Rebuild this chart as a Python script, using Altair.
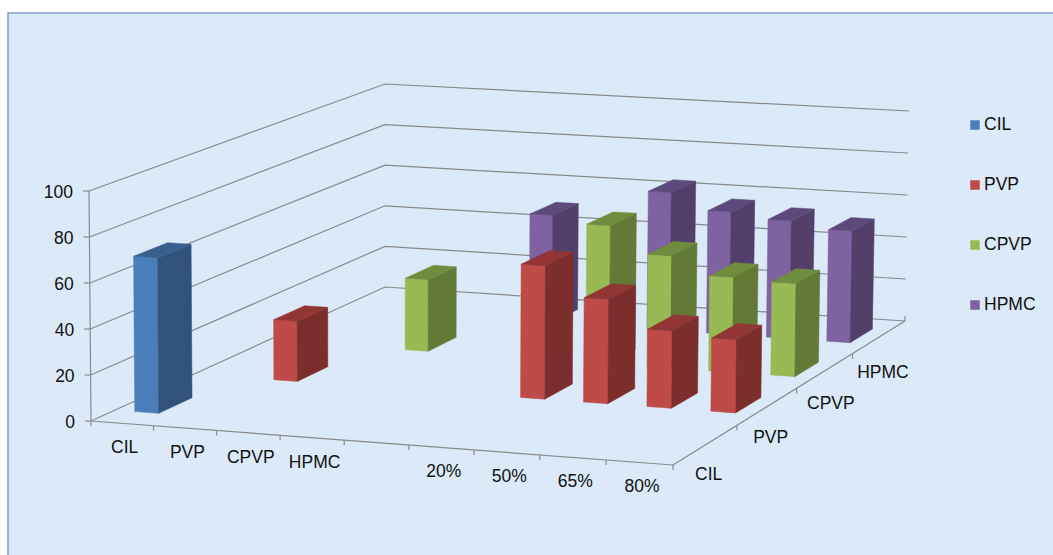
import altair as alt
import pandas as pd

# Series and categories of the 3-D column chart
categories = ["CIL", "PVP", "CPVP", "HPMC", "", "20%", "50%", "65%", "80%"]
series = ["CIL", "PVP", "CPVP", "HPMC"]
cil_values = [68, None, None, None, None, None, None, None, None]
pvp_values = [None, 27, None, None, None, 59, 46, 34, 32]
cpvp_values = [None, None, 33, None, None, 63, 51, 43, 42]
hpmc_values = [None, None, None, 51, None, 65, 57.5, 55, 52]
value_ticks = [0, 20, 40, 60, 80, 100]

series_values = [cil_values, pvp_values, cpvp_values, hpmc_values]
face_colors = {
    "CIL": ("#4a7ebb", "#31527c", "#38608f"),
    "PVP": ("#be4b48", "#7c2e2c", "#913634"),
    "CPVP": ("#98b954", "#637a37", "#708c3f"),
    "HPMC": ("#7e62a1", "#523f6a", "#5c4a7c"),
}
FONT = "Liberation Sans"
GRID = "#8a8a8a"
BG = "#dbe9f8"
W, H = 1053, 555

# Perspective of the floor: (category position, depth position) to page position
N_U, N_V = len(categories), len(series)
FL, FR, BR, BL = (91, 421), (673, 465), (905, 321), (385, 287)


def homography():
    (x0, y0), (x1, y1), (x2, y2), (x3, y3) = FL, FR, BR, BL
    dx1, dx2, sx = x1 - x2, x3 - x2, x0 - x1 + x2 - x3
    dy1, dy2, sy = y1 - y2, y3 - y2, y0 - y1 + y2 - y3
    det = dx1 * dy2 - dx2 * dy1
    g = (sx * dy2 - dx2 * sy) / det
    h = (dx1 * sy - sx * dy1) / det
    return (x1 - x0 + g * x1, x3 - x0 + h * x3, x0,
            y1 - y0 + g * y1, y3 - y0 + h * y3, y0, g, h)


M = homography()


def project(u, v, value=0):
    s, t = u / N_U, v / N_V
    w = M[6] * s + M[7] * t + 1
    x = (M[0] * s + M[1] * t + M[2]) / w
    y = (M[3] * s + M[4] * t + M[5]) / w
    # Height of 100 units and the slight lean of the verticals vary over the floor
    front_h, back_h = 230 + 8 * s, 203 + 7 * s
    full = front_h + (back_h - front_h) * t
    lean = (-2 + 4 * s) * (1 - t) + (0 + 4 * s) * t
    return x + lean * value / 100, y - full * value / 100


# Column faces, painted from the back row to the front
BAR_U, BAR_V = (0.32, 0.705), (0.29, 0.71)
polys = []


def add_poly(pid, color, pts):
    for k, (x, y) in enumerate(pts):
        polys.append({"poly": pid, "k": k, "x": x, "y": y, "c": color})


for j in reversed(range(N_V)):
    for i, val in enumerate(series_values[j]):
        if val is None:
            continue
        u0, u1 = i + BAR_U[0], i + BAR_U[1]
        v0, v1 = j + BAR_V[0], j + BAR_V[1]
        front, side, top = face_colors[series[j]]
        pid = f"{j:02d}-{i:02d}"
        add_poly(pid + "f", front, [project(u0, v0), project(u1, v0), project(u1, v0, val), project(u0, v0, val)])
        add_poly(pid + "s", side, [project(u1, v0), project(u1, v1), project(u1, v1, val), project(u1, v0, val)])
        add_poly(pid + "t", top, [project(u0, v0, val), project(u1, v0, val), project(u1, v1, val), project(u0, v1, val)])

# Gridlines on both walls, the two floor axes and every tick
lines = []


def add_line(lid, pts):
    for k, (x, y) in enumerate(pts):
        lines.append({"line": lid, "k": k, "x": x, "y": y})


for t in value_ticks:
    add_line(f"wall{t}", [project(0, 0, t), project(0, N_V, t), project(N_U, N_V, t)])
    x, y = project(0, 0, t)
    add_line(f"vtick{t}", [(x, y), (x - 6, y)])
add_line("vaxis", [project(0, 0, 0), project(0, 0, 100)])
add_line("front", [project(0, 0), project(N_U, 0)])
add_line("depth", [project(N_U, 0), project(N_U, N_V)])
for i in range(N_U + 1):
    x, y = project(i, 0)
    add_line(f"utick{i}", [(x, y), (x, y + 5)])
for j in range(1, N_V + 1):
    x, y = project(N_U, j)
    add_line(f"dtick{j}", [(x, y), (x, y - 5 if j == N_V else y + 5)])

# Text: value axis, category axis, depth axis
texts = []
for t in value_ticks:
    x, y = project(0, 0, t)
    texts.append({"x": x - 16, "y": y + 1.5, "t": str(t), "a": "right"})
for i, c in enumerate(categories):
    if c:
        x, y = project(i + 0.5, 0)
        texts.append({"x": x + 2.5, "y": y + 25, "t": c, "a": "center"})
for j, s in enumerate(series):
    x, y = project(N_U, j)
    texts.append({"x": x + 22 - 5.8 * j, "y": y + 10 + 3 * j, "t": s, "a": "left"})

legend = [{"s": s, "x": 975, "y": 125 + 60 * n, "c": face_colors[s][0]} for n, s in enumerate(series)]

x_scale = alt.Scale(domain=[0, W], range=[0, W])
y_scale = alt.Scale(domain=[0, H], range=[0, H])
X = alt.X("x:Q", scale=x_scale, axis=None)
Y = alt.Y("y:Q", scale=y_scale, axis=None)

panel = alt.Chart(pd.DataFrame({"x": [8], "x2": [W + 2], "y": [13], "y2": [H + 2]})).mark_rect(
    fill=BG, stroke="#7f9fcb", strokeWidth=1.5, clip=True
).encode(X, Y, x2="x2:Q", y2="y2:Q")

grid = alt.Chart(pd.DataFrame(lines)).mark_line(color=GRID, strokeWidth=1.2).encode(
    X, Y, detail="line:N", order="k:Q"
)

bars = alt.Chart(pd.DataFrame(polys)).mark_line(strokeWidth=0.5, interpolate="linear-closed").encode(
    X, Y,
    detail="poly:N",
    order="k:Q",
    fill=alt.Fill("c:N", scale=None),
    stroke=alt.Stroke("c:N", scale=None),
)

# Alignment differs per axis, so each alignment gets its own text layer
text_layers = [
    alt.Chart(pd.DataFrame([r for r in texts if r["a"] == a])).mark_text(
        font=FONT, fontSize=17.5, color="#111111", baseline="middle", align=a
    ).encode(X, Y, text="t:N")
    for a in ("right", "center", "left")
]

legend_df = pd.DataFrame(legend)
legend_marks = alt.Chart(legend_df).mark_square(size=90, opacity=1).encode(
    X, Y, fill=alt.Fill("c:N", scale=None)
)
legend_text = alt.Chart(legend_df).mark_text(
    font=FONT, fontSize=17.5, color="#111111", baseline="middle", align="left", dx=9
).encode(X, Y, text="s:N")

chart = alt.layer(panel, grid, bars, *text_layers, legend_marks, legend_text).properties(
    width=W, height=H, padding=0, background="white", autosize=alt.AutoSizeParams(type="none")
).configure_view(stroke=None)

chart.save("out.html", embed_options={"renderer": "svg", "actions": False})
